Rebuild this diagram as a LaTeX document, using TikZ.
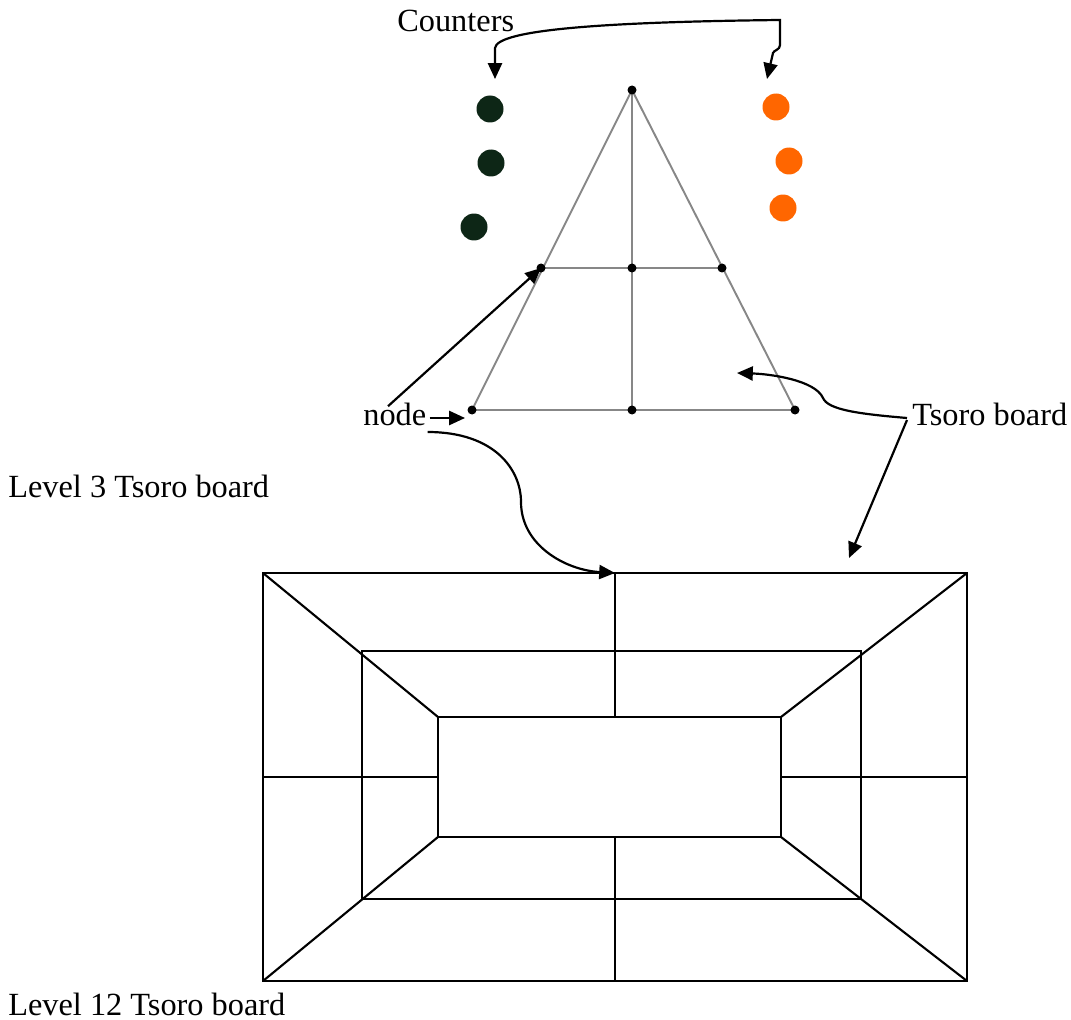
\documentclass[tikz,border=0pt]{standalone}
\usepackage{fontspec}
\setmainfont{Liberation Serif}
\usetikzlibrary{
  arrows.meta,
  calc
}
\definecolor{darkcounter}{RGB}{13,38,22}
\definecolor{orangecounter}{RGB}{255,102,0}
\definecolor{gridgray}{RGB}{135,135,135}
\newcommand{\drawCounter}[3]{%
  \node[circle, fill=#3, inner sep=0pt, minimum size=0.54cm] (#1) at (#2) {};
}
\tikzset{
  lbl/.style={font=\fontsize{18.4}{22}\selectfont, inner sep=0pt, anchor=base west},
  pointer/.style={line width=1.25pt},
  board/.style={line width=1.2pt},
  grid/.style={draw=gridgray, line width=1.1pt}
}

\begin{document}
\begin{tikzpicture}[x=0.02cm, y=-0.02cm, >={Triangle[length=9pt, width=8pt]}]
  \useasboundingbox (0,0) rectangle (1071,1020);

  % -- counters --
  \drawCounter{dark1}{490,109}{darkcounter}
  \drawCounter{dark2}{491,163}{darkcounter}
  \drawCounter{dark3}{474,227}{darkcounter}
  \drawCounter{orange1}{776,107}{orangecounter}
  \drawCounter{orange2}{789,161}{orangecounter}
  \drawCounter{orange3}{783,208}{orangecounter}

  % -- level 3 board (triangle) --
  \coordinate (apex) at (632,90);
  \coordinate (ml) at (541,268);
  \coordinate (mc) at (632,268);
  \coordinate (mr) at (722,268);
  \coordinate (bl) at (472,410);
  \coordinate (bc) at (632,410);
  \coordinate (br) at (795,410);
  \draw[grid] (bl) -- (apex) -- (br) -- cycle;
  \draw[grid] (apex) -- (bc);
  \draw[grid] (ml) -- (mr);
  \foreach \p in {apex,ml,mc,mr,bl,bc,br}
    \fill (\p) circle (4.5);

  % -- level 12 board (three nested rectangles) --
  \coordinate (o1) at (263,573);
  \coordinate (o2) at (967,573);
  \coordinate (o3) at (967,981);
  \coordinate (o4) at (263,981);
  \coordinate (m1) at (362,651);
  \coordinate (m3) at (861,899);
  \coordinate (i1) at (438,717);
  \coordinate (i2) at (781,717);
  \coordinate (i3) at (781,837);
  \coordinate (i4) at (438,837);
  \draw[board] (o1) rectangle (o3);
  \draw[board] (m1) rectangle (m3);
  \draw[board] (i1) rectangle (i3);
  \foreach \k in {1,...,4}
    \draw[board] (o\k) -- (i\k);
  \coordinate (otop) at ($(o1)!0.5!(o2)$);
  \coordinate (obot) at ($(o4)!0.5!(o3)$);
  \draw[board] (otop) -- (otop |- i1);
  \draw[board] (obot) -- (obot |- i4);
  \draw[board] ($(o1)!0.5!(o4)$) -- ($(i1)!0.5!(i4)$);
  \draw[board] ($(i2)!0.5!(i3)$) -- ($(o2)!0.5!(o3)$);

  % Labels
  \node[lbl] (counters) at (397,32) {Counters};
  \node[lbl] (nodelbl) at (363,425) {node};
  \node[lbl] (tsoro) at (912,425) {Tsoro board};
  \node[lbl] (lvl3) at (8,497) {Level 3 Tsoro board};
  \node[lbl] (lvl12) at (8,1015) {Level 12 Tsoro board};

  % Arrow tips that point at empty space
  \coordinate (cl) at (495,79);
  \coordinate (cr) at (767,79);
  \coordinate (nodetip) at (465,418);
  \coordinate (boardtip) at (737,373);
  \coordinate (edgetip) at (849,558);

  % Counters arrow
  \draw[pointer, <->] (cl) -- (495,48)
    .. controls (497,30) and (600,22) .. (780,20) -- (780,45)
    .. controls (780,50) and (774,50) .. (773,53) -- (cr);

  % node arrows
  \draw[pointer, ->] ($(nodelbl.base east)+(3,-7)$) -- (nodetip);
  \draw[pointer, ->] ($(nodelbl.north west)+(25,4)$) -- (ml);
  \draw[pointer, ->] ($(nodelbl.base east)+(1,7)$)
    .. controls (495,432) and (521,470) .. (521,502)
    .. controls (521,545) and (565,570) .. (otop);

  % Tsoro board arrows
  \draw[pointer, ->] ($(tsoro.base west)+(-5,-7)$)
    .. controls (860,414) and (828,410) .. (823,398)
    .. controls (815,380) and (770,374) .. (boardtip);
  \draw[pointer, ->] ($(tsoro.base west)+(-5,-5)$) -- (edgetip);

\end{tikzpicture}
\end{document}
